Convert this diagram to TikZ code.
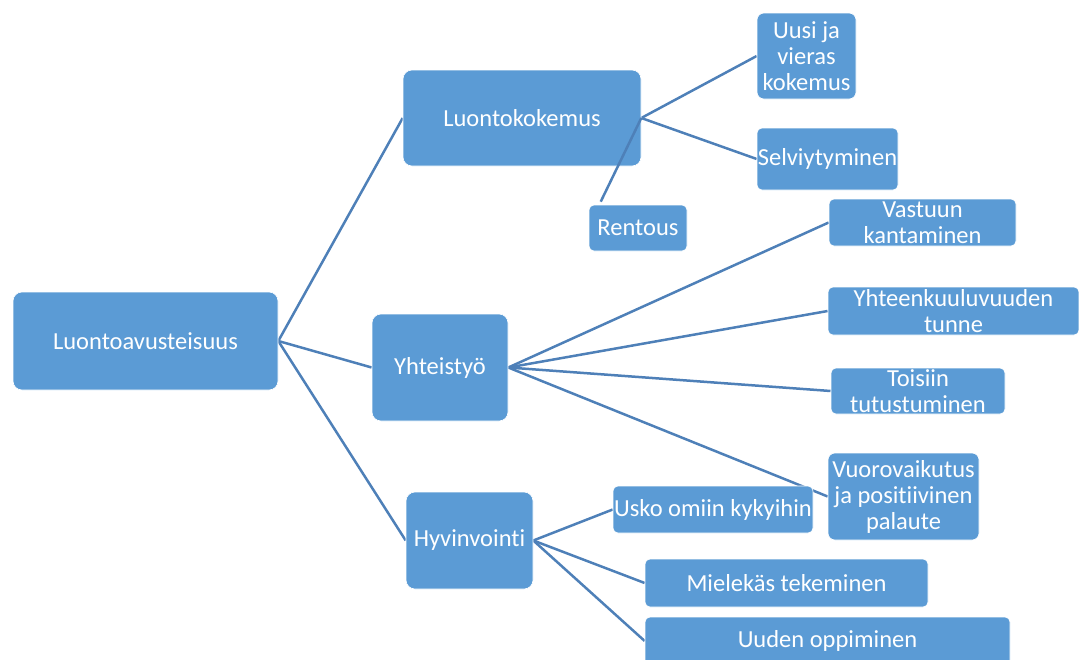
\documentclass[tikz,border=0pt]{standalone}
\usepackage{fontspec}
\setmainfont{Carlito}[Ligatures={NoCommon}]
\usetikzlibrary{calc}
\pgfdeclarelayer{bg}
\pgfsetlayers{bg,main}
\definecolor{boxblue}{HTML}{5B9BD5}
\definecolor{linkblue}{HTML}{4E80B8}
\begin{document}
\begin{tikzpicture}[x=1pt,y=-1pt,
  box/.style={rectangle, fill=boxblue, draw=white, line width=0.6pt, text=white,
    align=center, inner sep=0pt, font=\fontsize{24.5}{26}\selectfont},
  big/.style={box, rounded corners=9pt},
  small/.style={box, rounded corners=5pt},
  link/.style={draw=linkblue, line width=2.5pt}]
\useasboundingbox (0,0) rectangle (1079,659);

\node[big, minimum width=265, minimum height=98] (root) at (145.5,341) {Luontoavusteisuus};
\node[big, minimum width=238, minimum height=96] (luonto) at (522,118) {Luontokokemus};
\node[big, minimum width=136, minimum height=107] (yht) at (440,367.5) {Yhteistyö};
\node[big, minimum width=127, minimum height=97] (hyv) at (469.5,540.5) {Hyvinvointi};

\node[small, rounded corners=7pt, minimum width=99, minimum height=86] (uusi) at (806.5,56) {Uusi ja\\vieras\\kokemus};
\node[small, minimum width=141, minimum height=62] (selv) at (827.5,159) {Selviytyminen};
\node[small, minimum width=98, minimum height=46] (rent) at (638,228) {Rentous};

\node[small, minimum width=187, minimum height=47] (vast) at (922.5,222.5) {Vastuun\\kantaminen};
\node[small, minimum width=251, minimum height=48] (yhtk) at (953.5,311) {Yhteenkuuluvuuden\\tunne};
\node[small, minimum width=174, minimum height=46] (tois) at (918,391) {Toisiin\\tutustuminen};
\node[small, rounded corners=7pt, minimum width=151, minimum height=87] (vuoro) at (903.5,496.5) {Vuorovaikutus\\ja positiivinen\\palaute};

\node[small, minimum width=200, minimum height=47] (usko) at (713,509.5) {Usko omiin kykyihin};
\node[small, minimum width=283, minimum height=48] (miel) at (786.5,583) {Mielekäs tekeminen};
\node[small, minimum width=365, minimum height=48] (uuden) at (827.5,641) {Uuden oppiminen};

\begin{pgfonlayer}{bg}
\draw[link] (root.east) -- (luonto.west);
\draw[link] (root.east) -- (yht.west);
\draw[link] (root.east) -- (hyv.west);
\draw[link] (luonto.east) -- (uusi.west);
\draw[link] (luonto.east) -- (selv.west);
\draw[link] (yht.east) -- (vast.west);
\draw[link] (yht.east) -- (yhtk.west);
\draw[link] (yht.east) -- (tois.west);
\draw[link] (yht.east) -- (vuoro.west);
\draw[link] (hyv.east) -- (usko.west);
\draw[link] (hyv.east) -- (miel.west);
\draw[link] (hyv.east) -- (uuden.west);
\end{pgfonlayer}
\draw[link] (luonto.east) -- ($(rent.north west)+(12,-3)$);
\end{tikzpicture}
\end{document}
